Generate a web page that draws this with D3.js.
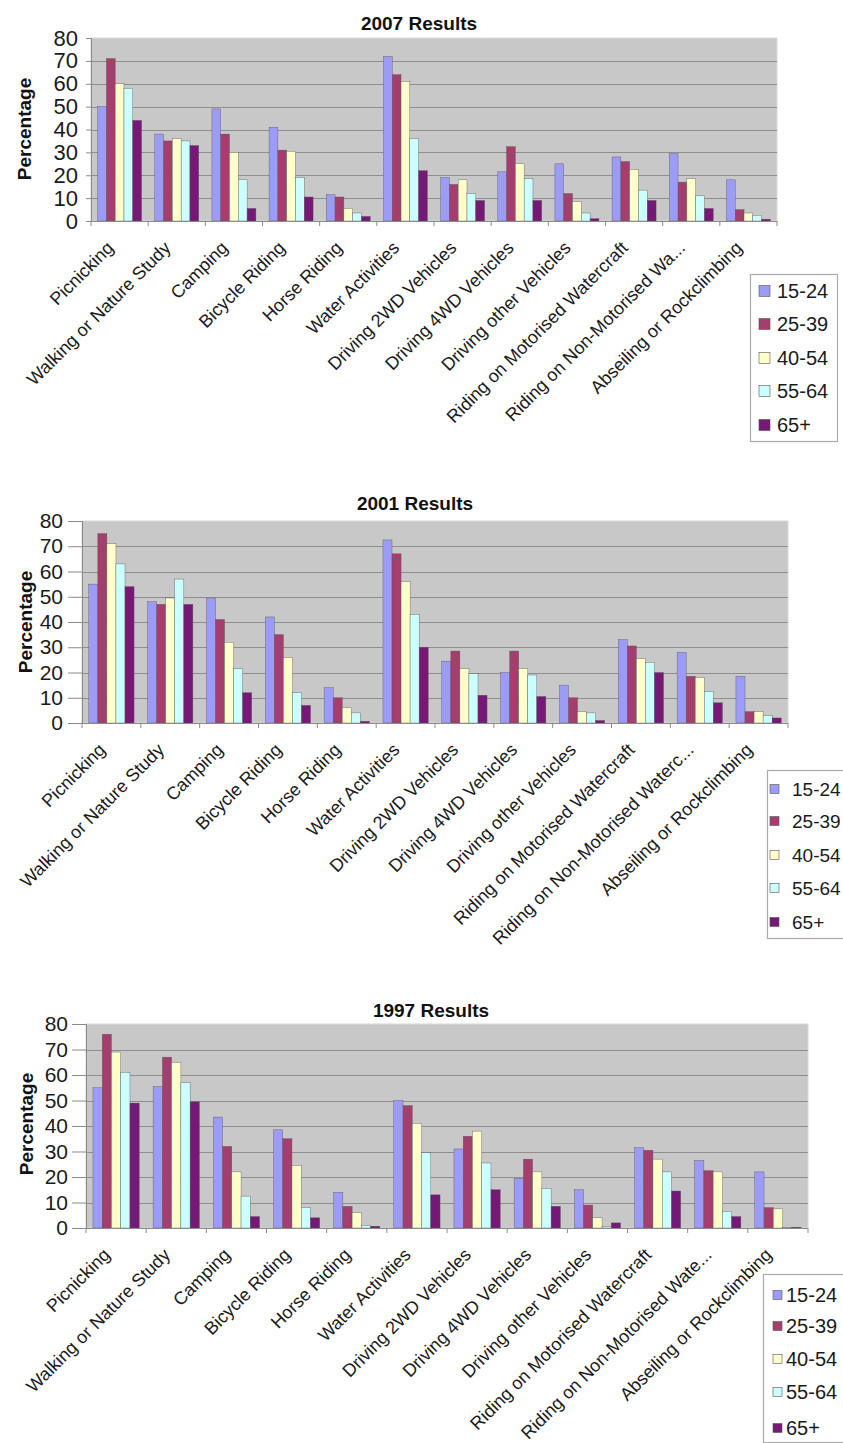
<!DOCTYPE html>
<html>
<head>
<meta charset="utf-8">
<script src="https://cdn.jsdelivr.net/npm/d3@7"></script>
<style>
  html, body { margin: 0; padding: 0; background: #fff; }
  svg { display: block; font-family: "Liberation Sans", Arial, sans-serif; }
</style>
</head>
<body>
<svg id="chart" width="843" height="1443"></svg>
<script>
// ---------- DATA ----------
const ageGroups = ["15-24", "25-39", "40-54", "55-64", "65+"];
const seriesColors = ["#9c9cf8", "#a43e6c", "#ffffcc", "#ccffff", "#761875"];
const yTicks = [0, 10, 20, 30, 40, 50, 60, 70, 80];

const labels2007 = ["Picnicking", "Walking or Nature Study", "Camping", "Bicycle Riding", "Horse Riding",
  "Water Activities", "Driving 2WD Vehicles", "Driving 4WD Vehicles", "Driving other Vehicles",
  "Riding on Motorised Watercraft", "Riding on Non-Motorised Wa...", "Abseiling or Rockclimbing"];
const labels2001 = ["Picnicking", "Walking or Nature Study", "Camping", "Bicycle Riding", "Horse Riding",
  "Water Activities", "Driving 2WD Vehicles", "Driving 4WD Vehicles", "Driving other Vehicles",
  "Riding on Motorised Watercraft", "Riding on Non-Motorised Waterc...", "Abseiling or Rockclimbing"];
const labels1997 = ["Picnicking", "Walking or Nature Study", "Camping", "Bicycle Riding", "Horse Riding",
  "Water Activities", "Driving 2WD Vehicles", "Driving 4WD Vehicles", "Driving other Vehicles",
  "Riding on Motorised Watercraft", "Riding on Non-Motorised Wate...", "Abseiling or Rockclimbing"];

// one row per activity: [15-24, 25-39, 40-54, 55-64, 65+]
const results2007 = [
  [50, 71, 60, 58, 44],
  [38, 35, 36, 35, 33],
  [49, 38, 30, 18, 5.5],
  [41, 31, 30.5, 19, 10.5],
  [11.5, 10.5, 5.5, 3.5, 2],
  [72, 64, 61, 36, 22],
  [19, 16, 18, 12, 9],
  [21.5, 32.5, 25, 18.5, 9],
  [25, 12, 8.5, 3.5, 1],
  [28, 26, 22.5, 13.5, 9],
  [29.5, 17, 18.5, 11, 5.5],
  [18, 5, 3.5, 2.5, 0.8]
];
const results2001 = [
  [55, 75, 71, 63, 54],
  [48, 47, 49.5, 57, 47],
  [49.5, 41, 32, 21.5, 12],
  [42, 35, 26, 12, 7],
  [14, 10, 6, 4, 0.7],
  [72.5, 67, 56, 43, 30],
  [24.5, 28.5, 21.5, 19.5, 11],
  [20, 28.5, 21.5, 19, 10.5],
  [15, 10, 4.5, 4, 1],
  [33, 30.5, 25.5, 24, 20],
  [28, 18.5, 18, 12.5, 8],
  [18.5, 4.5, 4.5, 3, 2]
];
const results1997 = [
  [55, 76, 69, 61, 49],
  [55.5, 67, 65, 57, 49.5],
  [43.5, 32, 22, 12.5, 4.5],
  [38.5, 35, 24.5, 8, 4],
  [14, 8.5, 6, 1, 0.7],
  [50, 48, 41, 29.5, 13],
  [31, 36, 38, 25.5, 15],
  [19.5, 27, 22, 15.5, 8.5],
  [15, 9, 4, 0.5, 2],
  [31.5, 30.5, 27, 22, 14.5],
  [26.5, 22.5, 22, 6.5, 4.5],
  [22, 8, 7.5, 0.3, 0.3]
];

// ---------- LAYOUT ----------
const charts = [
  { title: "2007 Results", labels: labels2007, data: results2007,
    left: 91, right: 777, top: 38, bottom: 221, titleX: 419, titleY: 30,
    yLabelX: 24, yLabelY: 129, tickFont: 22, tickGap: 13, tickLen: 5,
    legend: { x: 750, y: 274, w: 87, h: 167, sw: 11, swX: 759, textX: 777, font: 20, rows: [291, 324, 358, 391, 425] } },
  { title: "2001 Results", labels: labels2001, data: results2001,
    left: 82, right: 788, top: 521, bottom: 723, titleX: 415, titleY: 510,
    yLabelX: 25, yLabelY: 622, tickFont: 21, tickGap: 19, tickLen: 14,
    legend: { x: 767, y: 770, w: 90, h: 168, sw: 9, swX: 770, textX: 792, font: 19, rows: [789, 821, 855, 888, 922] } },
  { title: "1997 Results", labels: labels1997, data: results1997,
    left: 86, right: 808, top: 1024, bottom: 1228, titleX: 431, titleY: 1017,
    yLabelX: 26, yLabelY: 1124, tickFont: 21, tickGap: 18, tickLen: 14,
    legend: { x: 763, y: 1274, w: 90, h: 168, sw: 9, swX: 773, textX: 786, font: 20, rows: [1295, 1326, 1359, 1392, 1428] } }
];

const svg = d3.select("#chart");

charts.forEach(cfg => {
  const g = svg.append("g");

  const x0 = d3.scaleBand().domain(d3.range(cfg.labels.length))
    .range([cfg.left, cfg.right]).paddingInner(0).paddingOuter(0);
  const x1 = d3.scaleBand().domain(ageGroups)
    .range([0, x0.bandwidth()]).paddingInner(0).paddingOuter(0.75);
  const y = d3.scaleLinear().domain([0, 80]).range([cfg.bottom, cfg.top]);

  // plot background
  g.append("rect")
    .attr("x", cfg.left).attr("y", cfg.top)
    .attr("width", cfg.right - cfg.left).attr("height", cfg.bottom - cfg.top)
    .attr("fill", "#c8c8c8").attr("stroke", "#d8d8d8").attr("stroke-width", 1);

  // gridlines
  g.append("g").selectAll("line").data(yTicks.filter(t => t > 0 && t < 80)).join("line")
    .attr("x1", cfg.left).attr("x2", cfg.right)
    .attr("y1", d => Math.round(y(d)) + 0.5).attr("y2", d => Math.round(y(d)) + 0.5)
    .attr("stroke", "#8e8e8e").attr("stroke-width", 1.2);

  // bars
  const groups = g.append("g").selectAll("g").data(cfg.data).join("g")
    .attr("transform", (d, i) => `translate(${x0(i)},0)`);
  groups.selectAll("rect").data(d => d.map((v, j) => ({ v, j }))).join("rect")
    .attr("x", d => x1(ageGroups[d.j]))
    .attr("width", x1.bandwidth())
    .attr("y", d => y(d.v))
    .attr("height", d => y(0) - y(d.v))
    .attr("fill", d => seriesColors[d.j])
    .attr("stroke", "#5a5a5a").attr("stroke-width", 0.4);

  // y axis
  const yAxis = g.append("g")
    .attr("transform", `translate(${cfg.left},0)`)
    .call(d3.axisLeft(y).tickValues(yTicks).tickSize(cfg.tickLen).tickPadding(cfg.tickGap - cfg.tickLen));
  yAxis.select(".domain").attr("stroke", "#8a8a8a");
  yAxis.selectAll(".tick line").attr("stroke", "#8a8a8a");
  yAxis.selectAll(".tick text")
    .attr("font-size", cfg.tickFont).attr("fill", "#1a1a1a")
    .attr("font-family", "'Liberation Sans', Arial, sans-serif");

  // x axis line + category boundary ticks
  g.append("line")
    .attr("x1", cfg.left).attr("x2", cfg.right)
    .attr("y1", cfg.bottom + 0.5).attr("y2", cfg.bottom + 0.5)
    .attr("stroke", "#8a8a8a");
  const bounds = d3.range(cfg.labels.length + 1).map(i => cfg.left + i * x0.step());
  g.append("g").selectAll("line").data(bounds).join("line")
    .attr("x1", d => d).attr("x2", d => d)
    .attr("y1", cfg.bottom).attr("y2", cfg.bottom + 5)
    .attr("stroke", "#8a8a8a");

  // x labels
  g.append("g").selectAll("text").data(cfg.labels).join("text")
    .attr("transform", (d, i) => `translate(${x0(i) + x0.bandwidth() / 2 - 5},${cfg.bottom + 28}) rotate(-45)`)
    .attr("text-anchor", "end")
    .attr("font-size", 18).attr("fill", "#1a1a1a")
    .text(d => d);

  // title
  g.append("text")
    .attr("x", cfg.titleX).attr("y", cfg.titleY)
    .attr("text-anchor", "middle")
    .attr("font-size", 19).attr("font-weight", "bold").attr("fill", "#111")
    .text(cfg.title);

  // y label
  g.append("text")
    .attr("transform", `translate(${cfg.yLabelX + 7},${cfg.yLabelY}) rotate(-90)`)
    .attr("text-anchor", "middle")
    .attr("font-size", 19).attr("font-weight", "bold").attr("fill", "#111")
    .text("Percentage");

  // legend
  const L = cfg.legend;
  g.append("rect")
    .attr("x", L.x + 0.5).attr("y", L.y + 0.5).attr("width", L.w).attr("height", L.h)
    .attr("fill", "#fff").attr("stroke", "#aaaaaa").attr("stroke-width", 1.2);
  const items = g.append("g").selectAll("g").data(ageGroups).join("g")
    .attr("transform", (d, i) => `translate(0,${L.rows[i]})`);
  items.append("rect")
    .attr("x", L.swX).attr("y", -L.sw / 2)
    .attr("width", L.sw).attr("height", L.sw)
    .attr("fill", (d, i) => seriesColors[i])
    .attr("stroke", "#555").attr("stroke-width", 0.6);
  items.append("text")
    .attr("x", L.textX).attr("y", 0).attr("dy", "0.36em")
    .attr("font-size", L.font).attr("fill", "#1a1a1a")
    .text(d => d);
});
</script>
</body>
</html>
